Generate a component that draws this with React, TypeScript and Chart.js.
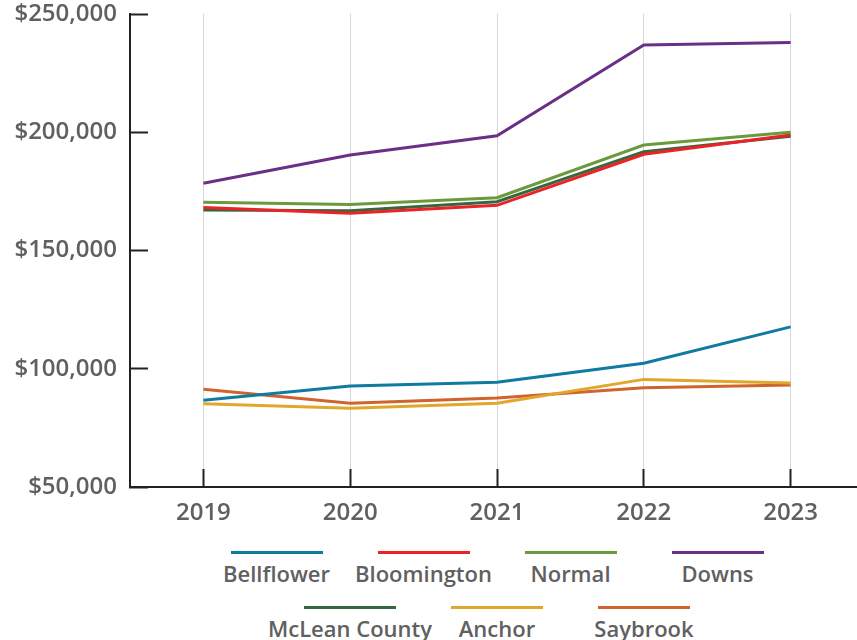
import React, { useEffect, useRef } from "react";
import { Chart, registerables } from "chart.js";

Chart.register(...registerables);

const years = ["2019", "2020", "2021", "2022", "2023"];

const seriesNames = [
  "Bellflower",
  "Bloomington",
  "Normal",
  "Downs",
  "McLean County",
  "Anchor",
  "Saybrook",
];

const bellflower = [86700, 92700, 94300, 102300, 117700];
const bloomington = [168200, 165700, 169100, 190700, 198800];
const normal = [170400, 169500, 172300, 194600, 200000];
const downs = [178400, 190400, 198500, 236900, 237900];
const mcleanCounty = [167100, 166800, 170600, 191800, 198300];
const anchor = [85200, 83300, 85400, 95500, 94000];
const saybrook = [91300, 85400, 87600, 92000, 93100];

const seriesValues = [bellflower, bloomington, normal, downs, mcleanCounty, anchor, saybrook];

const seriesColors = [
  "#0f7ba1",
  "#ed2226",
  "#6a9a3c",
  "#6b2f85",
  "#36673f",
  "#e1a72c",
  "#d0632e",
];

const yMin = 50000;
const yMax = 250000;
const yStep = 50000;

const legendRows = [
  [0, 1, 2, 3],
  [4, 5, 6],
];

const TEXT = "#606060";
const FONT = "'Open Sans', 'Noto Sans', sans-serif";

export default function App() {
  const canvasRef = useRef<HTMLCanvasElement | null>(null);

  useEffect(() => {
    if (!canvasRef.current) return;
    const chart = new Chart(canvasRef.current, {
      type: "line",
      data: {
        labels: years,
        datasets: seriesNames.map((name, i) => ({
          label: name,
          data: seriesValues[i],
          borderColor: seriesColors[i],
          backgroundColor: seriesColors[i],
          borderWidth: 3,
          pointRadius: 0,
          pointHoverRadius: 0,
          tension: 0,
          fill: false,
        })),
      },
      options: {
        responsive: false,
        animation: false,
        devicePixelRatio: 1,
        layout: { padding: { top: 14, left: 0, right: 0, bottom: 0 } },
        plugins: {
          legend: { display: false },
          tooltip: { enabled: false },
        },
        scales: {
          x: {
            type: "category",
            offset: true,
            grid: {
              display: true,
              drawOnChartArea: true,
              drawTicks: true,
              tickLength: -18,
              color: "#d6d6d6",
              lineWidth: 1,
              tickColor: "#222222",
              tickWidth: 2,
              offset: false,
            },
            border: { display: true, color: "#222222", width: 2 },
            ticks: {
              color: TEXT,
              padding: 30,
              font: { family: FONT, size: 24, weight: "600" },
              maxRotation: 0,
            },
            afterFit: (scale: any) => {
              scale.height = 53;
              scale.paddingLeft = 0;
              scale.paddingRight = 0;
            },
          },
          y: {
            type: "linear",
            min: yMin,
            max: yMax,
            grid: {
              display: true,
              drawOnChartArea: false,
              drawTicks: true,
              tickLength: -18,
              tickColor: "#222222",
              tickWidth: 2,
            },
            border: { display: true, color: "#222222", width: 2 },
            ticks: {
              stepSize: yStep,
              color: TEXT,
              padding: 31,
              font: { family: FONT, size: 24, weight: "600" },
              callback: (v: any) => "$" + Number(v).toLocaleString("en-US"),
            },
            afterFit: (scale: any) => {
              scale.width = 130;
              scale.paddingTop = 0;
              scale.paddingBottom = 0;
            },
          },
        },
      },
    });
    return () => chart.destroy();
  }, []);

  return (
    <div
      style={{
        position: "fixed",
        left: 0,
        top: 0,
        width: 857,
        height: 640,
        overflow: "hidden",
        background: "#ffffff",
      }}
    >
      <canvas
        ref={canvasRef}
        width={864}
        height={540}
        style={{ position: "absolute", left: 0, top: 0, width: 864, height: 540 }}
      />
      <div
        style={{
          position: "absolute",
          left: 130,
          top: 551,
          width: 734,
          display: "flex",
          flexDirection: "column",
          gap: 18,
        }}
      >
        {legendRows.map((row, r) => (
          <div key={r} style={{ display: "flex", justifyContent: "center" }}>
            {row.map((idx) => (
              <div
                key={idx}
                style={{
                  width: 147,
                  display: "flex",
                  flexDirection: "column",
                  alignItems: "center",
                }}
              >
                <div style={{ width: 92, height: 3, background: seriesColors[idx] }} />
                <div
                  style={{
                    marginTop: 4,
                    fontFamily: FONT,
                    fontWeight: 600,
                    fontSize: 22,
                    lineHeight: "30px",
                    color: TEXT,
                    whiteSpace: "nowrap",
                  }}
                >
                  {seriesNames[idx]}
                </div>
              </div>
            ))}
          </div>
        ))}
      </div>
    </div>
  );
}
